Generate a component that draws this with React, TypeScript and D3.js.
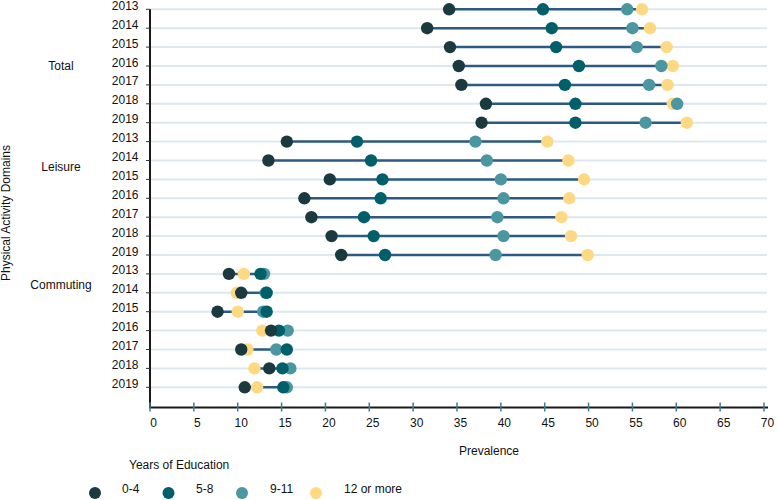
import React from "react";
import * as d3 from "d3";

const domains = ["Total", "Leisure", "Commuting"];
const years = ["2013", "2014", "2015", "2016", "2017", "2018", "2019"];
const groups = ["0-4", "5-8", "9-11", "12 or more"];
const groupColors = ["#1b3a40", "#005f69", "#4a97a2", "#fdd984"];

// values per domain, per year (2013..2019)
const total04 = [34.1, 31.6, 34.2, 35.2, 35.5, 38.3, 37.8];
const total58 = [44.8, 45.8, 46.3, 48.9, 47.3, 48.5, 48.5];
const total911 = [54.4, 55.0, 55.5, 58.3, 56.9, 60.1, 56.5];
const total12 = [56.1, 57.0, 58.9, 59.6, 59.0, 59.6, 61.2];

const leisure04 = [15.6, 13.5, 20.5, 17.6, 18.4, 20.7, 21.8];
const leisure58 = [23.6, 25.2, 26.5, 26.3, 24.4, 25.5, 26.8];
const leisure911 = [37.1, 38.4, 40.0, 40.3, 39.6, 40.3, 39.4];
const leisure12 = [45.3, 47.7, 49.5, 47.8, 46.9, 48.0, 49.9];

const commuting04 = [9.0, 10.4, 7.7, 13.8, 10.4, 13.6, 10.8];
const commuting58 = [12.6, 13.3, 13.3, 14.7, 15.6, 15.1, 15.2];
const commuting911 = [13.0, 13.2, 12.9, 15.7, 14.4, 16.0, 15.6];
const commuting12 = [10.7, 9.9, 10.0, 12.8, 11.1, 11.9, 12.2];

const xTicks = [0, 5, 10, 15, 20, 25, 30, 35, 40, 45, 50, 55, 60, 65, 70];

const domainSeries = [
  [total04, total58, total911, total12],
  [leisure04, leisure58, leisure911, leisure12],
  [commuting04, commuting58, commuting911, commuting12],
];

type Row = { key: string; domain: string; year: string; values: number[] };

const rows: Row[] = [];
domains.forEach((dom, di) => {
  years.forEach((yr, yi) => {
    rows.push({
      key: dom + "-" + yr,
      domain: dom,
      year: yr,
      values: domainSeries[di].map((s) => s[yi]),
    });
  });
});

const font = "'Liberation Sans', Arial, Helvetica, sans-serif";

export default function App() {
  const x = d3.scaleLinear().domain([0, 70]).range([150, 764]);
  const y = d3
    .scalePoint<string>()
    .domain(rows.map((r) => r.key))
    .range([9.3, 387.3]);

  const axisY = 407.5;
  const gridRight = 767;
  const drawOrder = [3, 2, 1, 0];

  // domain label positions (in row units)
  const domainLabelPos = [
    { label: "Total", yy: (y("Total-2016") as number) + 4 },
    {
      label: "Leisure",
      yy: ((y("Leisure-2014") as number) * 2 + (y("Leisure-2015") as number)) / 3 + 4.5,
    },
    {
      label: "Commuting",
      yy: ((y("Commuting-2013") as number) * 0.4 + (y("Commuting-2014") as number) * 0.6) + 4,
    },
  ];

  const legendX = [95, 168.5, 242, 316];
  const legendTextX = [122, 196, 270, 344];

  return (
    <svg
      width={777}
      height={500}
      style={{ position: "absolute", left: 0, top: 0, background: "#fff" }}
      fontFamily={font}
    >
      {/* grid lines */}
      {rows.map((r) => (
        <line
          key={"g" + r.key}
          x1={x(0)}
          x2={gridRight}
          y1={y(r.key)}
          y2={y(r.key)}
          stroke="#dde7ee"
          strokeWidth={2}
        />
      ))}

      {/* y axis */}
      <line x1={150} x2={150} y1={y(rows[0].key)} y2={axisY} stroke="#1a1a1a" strokeWidth={2} />
      {rows.map((r) => (
        <g key={"yt" + r.key}>
          <line x1={146} x2={150} y1={y(r.key)} y2={y(r.key)} stroke="#333" strokeWidth={1} />
          <text x={138.5} y={(y(r.key) as number) + 0.5} textAnchor="end" fontSize={12} fill="#111">
            {r.year}
          </text>
        </g>
      ))}

      {domainLabelPos.map((d) => (
        <text key={d.label} x={61} y={d.yy} textAnchor="middle" fontSize={12} fill="#111">
          {d.label}
        </text>
      ))}

      <text
        transform={`translate(10,213) rotate(-90)`}
        textAnchor="middle"
        fontSize={12}
        fill="#111"
      >
        Physical Activity Domains
      </text>

      {/* x axis */}
      <line x1={149} x2={768} y1={axisY} y2={axisY} stroke="#1a1a1a" strokeWidth={2} />
      {xTicks.map((t) => (
        <g key={"xt" + t}>
          <line x1={x(t)} x2={x(t)} y1={axisY - 5} y2={axisY + 4} stroke="#3d7f8d" strokeWidth={1.5} />
          <text x={x(t) + 3.5} y={427} textAnchor="middle" fontSize={12} fill="#111">
            {t}
          </text>
        </g>
      ))}
      <text x={489} y={455} textAnchor="middle" fontSize={12} fill="#111">
        Prevalence
      </text>

      {/* dumbbells */}
      {rows.map((r) => {
        const lo = d3.min(r.values) as number;
        const hi = d3.max(r.values) as number;
        const cy = y(r.key) as number;
        return (
          <g key={"d" + r.key}>
            <line x1={x(lo)} x2={x(hi)} y1={cy} y2={cy} stroke="#2c5a84" strokeWidth={2.5} />
            {drawOrder.map((gi) => (
              <circle key={gi} cx={x(r.values[gi])} cy={cy} r={6.2} fill={groupColors[gi]} />
            ))}
          </g>
        );
      })}

      {/* legend */}
      <text x={129} y={469} fontSize={12} fill="#111">
        Years of Education
      </text>
      {groups.map((g, i) => (
        <g key={"lg" + g}>
          <circle cx={legendX[i]} cy={493} r={6} fill={groupColors[i]} />
          <text x={legendTextX[i]} y={493} fontSize={12} fill="#111">
            {g}
          </text>
        </g>
      ))}
    </svg>
  );
}
